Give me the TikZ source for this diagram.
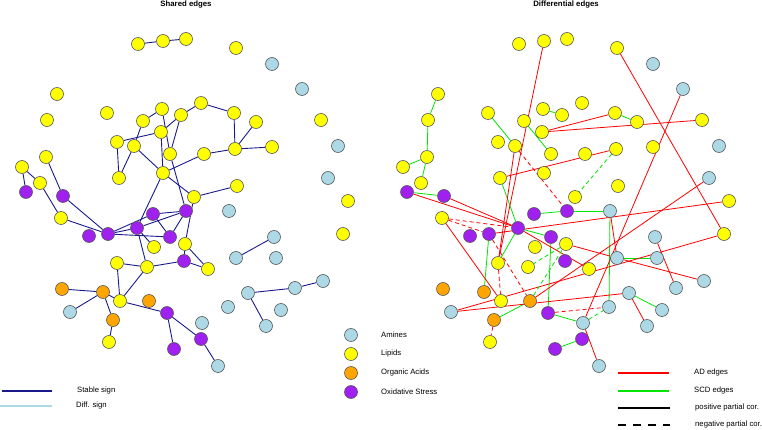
\documentclass[tikz,border=0pt]{standalone}
\usepackage{fontspec}
\setmainfont{Liberation Sans}
\pgfdeclarelayer{bg}
\pgfsetlayers{bg,main}
\definecolor{cY}{RGB}{255,255,0}
\definecolor{cB}{RGB}{173,216,230}
\definecolor{cO}{RGB}{255,165,0}
\definecolor{cP}{RGB}{160,32,240}
\definecolor{navyedge}{RGB}{25,25,140}
\definecolor{adred}{RGB}{255,0,0}
\definecolor{scdgreen}{RGB}{0,230,0}
\begin{document}
\begin{tikzpicture}[x=1pt,y=-1pt,
  nd/.style={circle,draw=black!65,line width=0.6pt,minimum size=13pt,inner sep=0pt},
  shared/.style={draw=navyedge,line width=0.9pt},
  ad/.style={draw=adred,line width=0.8pt},
  scd/.style={draw=scdgreen,line width=0.8pt},
  neg/.style={dashed,dash pattern=on 4pt off 3pt},
  lab/.style={font=\fontsize{7.7}{9}\selectfont,anchor=west,inner sep=0pt},
  ttl/.style={font=\bfseries\fontsize{7.8}{9}\selectfont,inner sep=0pt}]
\useasboundingbox (0,0) rectangle (762,430);
\node[ttl] (t1) at (186,5) {Shared edges};
\node[ttl] (t2) at (566,5) {Differential edges};
\foreach \i/\x/\y/\c in {
 1/138/44/Y, 2/163/41/Y, 3/186/39/Y, 4/236/48/Y, 5/272/64/B, 6/302/89/B,
 7/57/94/Y, 8/47/120/Y, 9/107/113/Y, 10/162/109/Y, 11/181/115/Y, 12/143/121/Y,
 13/161/132/Y, 14/117/142/Y, 15/134/146/Y, 16/201/103/Y, 17/234/113/Y, 18/256/122/Y,
 19/321/120/Y, 20/235/149/Y, 21/272/147/Y, 22/338/146/B, 23/46/157/Y, 24/22/167/Y,
 25/40/183/Y, 26/26/192/P, 27/63/196/P, 28/170/154/Y, 29/163/173/Y, 30/119/178/Y,
 31/61/218/Y, 32/89/236/P, 33/108/234/P, 34/137/228/P, 35/153/214/P, 36/186/211/P,
 37/194/197/Y, 38/170/237/P, 39/154/247/Y, 40/185/244/Y, 41/184/261/P, 42/117/263/Y,
 43/147/267/Y, 44/204/154/Y, 45/328/178/B, 46/237/186/Y, 47/348/201/Y, 48/229/211/B,
 49/274/237/B, 50/343/234/Y, 51/208/269/Y, 52/236/258/B, 53/276/258/B, 54/323/281/B,
 55/295/288/B, 57/62/289/O, 58/103/292/O, 59/120/301/Y, 60/149/301/O,
 61/70/312/B, 62/113/320/O, 63/167/313/P, 64/109/342/Y, 65/202/323/B, 66/201/339/P,
 67/174/349/P, 68/218/366/B, 69/228/307/B, 70/248/293/B, 71/281/310/B, 72/266/326/B}
{
  \node[nd,fill=c\c] (L\i) at (\x,\y) {};
  \node[nd,fill=c\c] (R\i) at (\x+381,\y) {};
}
\begin{pgfonlayer}{bg}
\foreach \a/\b in {1/2,2/3,12/10,12/15,14/13,13/11,11/16,16/17,17/20,18/20,20/44,20/21,
  44/29,14/30,15/30,15/29,13/29,10/28,11/28,28/36,29/34,29/37,37/46,24/26,24/25,23/27,
  25/31,27/33,31/33,33/34,33/35,33/38,34/39,34/43,34/36,35/38,35/36,36/38,37/40,40/41,
  41/51,40/51,42/43,43/41,42/59,43/59,57/58,58/61,58/59,58/62,62/64,59/63,63/66,63/67,
  66/68,70/55,55/54,70/72,49/52}
  \draw[shared] (L\a) -- (L\b);
\foreach \a/\b in {7/8,8/23,23/24,23/25,26/27,10/11,9/15,12/28,30/34,17/18,36/48,52/53,
  62/60,63/65,69/48,70/71,66/67,33/58,42/34,35/36,34/38,63/38}
  \draw[scd] (R\a) -- (R\b);
\foreach \a/\b in {2/42,15/42,13/17,13/19,4/50,26/34,27/34,31/59,30/20,48/52,49/55,52/54,
  65/6,65/68,40/52,47/33,45/60,50/61,61/70,70/72,34/51}
  \draw[ad] (R\a) -- (R\b);
\foreach \a/\b in {20/37,65/69,60/40,40/43}
  \draw[scd,neg] (R\a) -- (R\b);
\foreach \a/\b in {31/34,31/33,62/64,42/59,63/69,15/36,33/60}
  \draw[ad,neg] (R\a) -- (R\b);
\end{pgfonlayer}
% legends
\foreach \i/\c/\t in {1/B/Amines,2/Y/Lipids,3/O/Organic Acids,4/P/Oxidative Stress}{
  \node[nd,fill=c\c] (lg\i) at (351,316+19*\i) {};
  \node[lab] (lt\i) at (381,316+19*\i) {\t};
}
\coordinate (s1a) at (2,391); \coordinate (s1b) at (52,391);
\coordinate (s2a) at (0,406); \coordinate (s2b) at (52,406);
\draw[navyedge,line width=1.5pt] (s1a) -- (s1b);
\draw[cB,line width=1.5pt] (s2a) -- (s2b);
\node[lab] (st1) at (77,391) {Stable sign};
\node[lab] (st2) at (76,406) {Diff. sign};
\coordinate (e1a) at (618,373); \coordinate (e1b) at (669,373);
\coordinate (e2a) at (618,391); \coordinate (e2b) at (669,391);
\coordinate (e3a) at (618,408); \coordinate (e3b) at (670,408);
\coordinate (e4a) at (618,425); \coordinate (e4b) at (670,425);
\draw[adred,line width=1.5pt] (e1a) -- (e1b);
\draw[scdgreen,line width=1.5pt] (e2a) -- (e2b);
\draw[black,line width=1.5pt] (e3a) -- (e3b);
\draw[black,line width=1.5pt,dash pattern=on 8pt off 7pt] (e4a) -- (e4b);
\node[lab] (et1) at (694,373) {AD edges};
\node[lab] (et2) at (694,391) {SCD edges};
\node[lab] (et3) at (695,408) {positive partial cor.};
\node[lab] (et4) at (695,425) {negative partial cor.};
\end{tikzpicture}
\end{document}
